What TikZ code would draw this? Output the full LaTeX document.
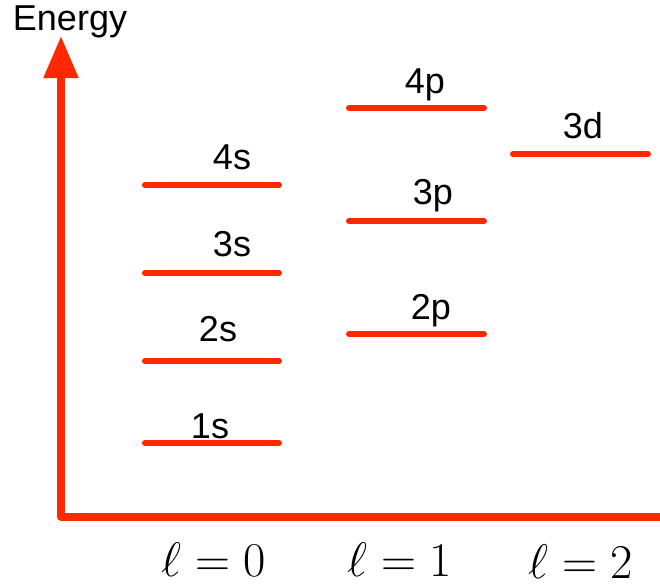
\documentclass[tikz,border=0pt]{standalone}
\usepackage{fontspec}
\setmainfont{Liberation Sans}
\usetikzlibrary{arrows.meta}
\definecolor{levred}{RGB}{255,40,0}

\begin{document}
\begin{tikzpicture}[x=0.02cm,y=-0.02cm,
  every node/.style={inner sep=0pt,font=\fontsize{20.5}{24}\selectfont},
  level/.style={draw=levred,line width=3.4pt,line cap=round},
  axis/.style={draw=levred,line width=4.3pt,line join=round},
  lval/.style={font=\Huge,scale=1.11,transform shape}]
\useasboundingbox (0,0) rectangle (660,586);
% axes
\coordinate (top) at (61,36);
\coordinate (origin) at (61,517);
\coordinate (right) at (664,517);
\draw[axis,{Triangle[length=24pt,width=19pt]}-] (top) -- (origin) -- (right);
\node (energy) at (70,22) {Energy};
% energy levels
\foreach \name/\xa/\xb/\y/\lx/\ly in {1s/145/279/443/210/426,2s/145/279/361/218/329,
  3s/145/279/273/232/244,4s/145/279/185/232/157,2p/349/484/334/431/311,
  3p/349/484/221/433/196,4p/349/484/108/425/85,3d/513/648/154/583/126} {
  \coordinate (\name-l) at (\xa,\y);
  \coordinate (\name-r) at (\xb,\y);
  \draw[level] (\name-l) -- (\name-r);
  \node (\name) at (\lx,\ly) {\name};
}
% quantum numbers
\node[lval] (l0) at (214,560) {$\ell=0$};
\node[lval] (l1) at (400,560) {$\ell=1$};
\node[lval] (l2) at (581,562) {$\ell=2$};
\end{tikzpicture}
\end{document}
